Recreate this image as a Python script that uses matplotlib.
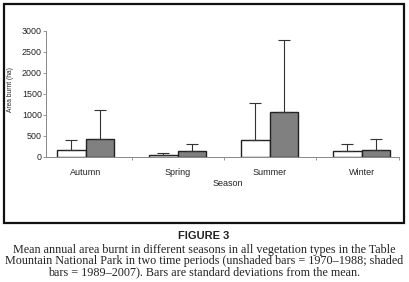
import matplotlib

matplotlib.use("Agg")
import matplotlib.pyplot as plt
from matplotlib.patches import Rectangle

SEASONS = ["Autumn", "Spring", "Summer", "Winter"]
EARLY_MEAN = [170, 40, 390, 140]     # 1970-1988, unshaded
EARLY_SD = [230, 40, 890, 160]
LATE_MEAN = [420, 130, 1070, 150]    # 1989-2007, shaded
LATE_SD = [680, 170, 1710, 270]
YTICKS = [0, 500, 1000, 1500, 2000, 2500, 3000]

CAPTION = [
    "Mean annual area burnt in different seasons in all vegetation types in the Table",
    "Mountain National Park in two time periods (unshaded bars = 1970\u20131988; shaded",
    "bars = 1989\u20132007). Bars are standard deviations from the mean.",
]

W, H = 409, 282
plt.rcParams["font.family"] = ["Liberation Sans", "DejaVu Sans"]

fig = plt.figure(figsize=(W / 100, H / 100), dpi=100)
ax = fig.add_axes([46 / W, 1 - 156.7 / H, (399.3 - 46) / W, (156.7 - 30.5) / H])

x = list(range(len(SEASONS)))
bw = 0.31
err_kw = dict(ecolor="#333333", elinewidth=0.8, capsize=4.2, capthick=0.8)
ax.bar([i - bw / 2 for i in x], EARLY_MEAN, bw, color="white", edgecolor="#222222",
       linewidth=1.0, yerr=[[0] * 4, EARLY_SD], error_kw=err_kw, zorder=2)
ax.bar([i + bw / 2 for i in x], LATE_MEAN, bw, color="#808080", edgecolor="#222222",
       linewidth=1.0, yerr=[[0] * 4, LATE_SD], error_kw=err_kw, zorder=2)

ax.set_xlim(-0.43, 3.41)
ax.set_ylim(0, 3000)
ax.set_yticks(YTICKS)
ax.tick_params(axis="y", labelsize=6.4, length=2, width=0.6, color="#888888",
               pad=1, labelcolor="#222222")
ax.set_xticks(x, SEASONS)
ax.set_xticks([0.5, 1.5, 2.5, 3.41], minor=True)
ax.tick_params(axis="x", which="major", length=0, pad=8, labelsize=6.5,
               labelcolor="#222222")
ax.tick_params(axis="x", which="minor", length=2.5, width=0.6, color="#888888")
for s in ("top", "right"):
    ax.spines[s].set_visible(False)
for s in ("left", "bottom"):
    ax.spines[s].set_color("#888888")
    ax.spines[s].set_linewidth(0.7)

fig.text(11 / W, 1 - 90 / H, "Area burnt (ha)", rotation=90, ha="center",
         va="center", fontsize=4.8, color="#222222")
fig.text(228 / W, 1 - 184 / H, "Season", ha="center", va="center",
         fontsize=6.5, color="#222222")

# outer frame around the plot
fig.patches.append(Rectangle((4 / W, 1 - 223 / H), 400 / W, 219 / H,
                             transform=fig.transFigure, fill=False,
                             edgecolor="#111111", linewidth=1.6))

fig.text(204 / W, 1 - 236 / H, "FIGURE 3", ha="center", va="center",
         fontsize=8, fontweight="bold", color="#222222")
for k, line in enumerate(CAPTION):
    fig.text(204 / W, 1 - (250 + 11 * k) / H, line, ha="center", va="center",
             fontsize=8.7, family="Liberation Serif", color="#222222")

fig.savefig("out.png", dpi=100)
